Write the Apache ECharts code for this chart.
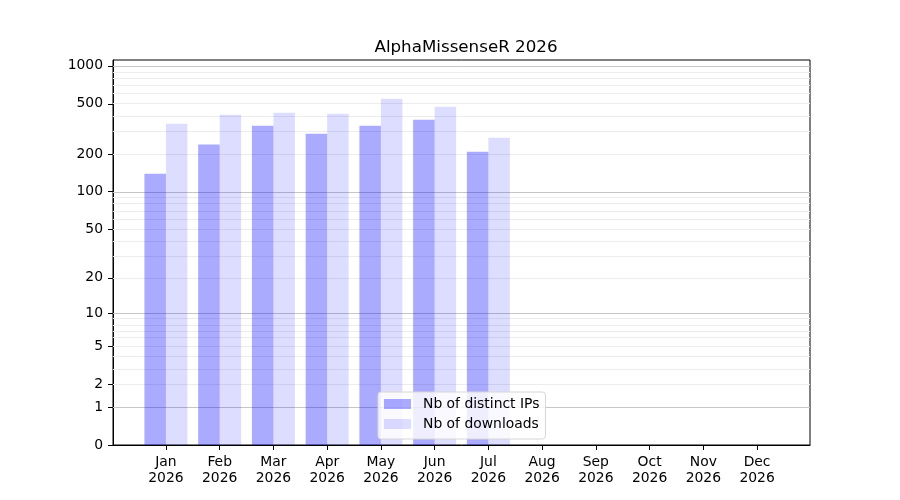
<!DOCTYPE html>
<html>
<head>
<meta charset="utf-8">
<title>AlphaMissenseR 2026</title>
<script src="https://cdn.jsdelivr.net/npm/echarts@6/dist/echarts.min.js"></script>
<style>
  html, body { margin: 0; padding: 0; background: #fff; }
  #main { width: 900px; height: 500px; }
</style>
</head>
<body>
<div id="main"></div>
<script>
// values
var months = ['Jan', 'Feb', 'Mar', 'Apr', 'May', 'Jun', 'Jul', 'Aug', 'Sep', 'Oct', 'Nov', 'Dec']
var year = '2026'
var monthPos = [1, 2, 3, 4, 5, 6, 7, 8, 9, 10, 11, 12]
var distinctIPs = [139, 237, 335, 289, 335, 374, 208, 0, 0, 0, 0, 0]
var downloads = [347, 410, 425, 417, 548, 474, 269, 0, 0, 0, 0, 0]

// y axis is log10(1 + n)
var yTicks = [0, 1, 2, 5, 10, 20, 50, 100, 200, 500, 1000]
var majorGrid = [1, 10, 100, 1000]
var minorGrid = [2, 3, 4, 5, 6, 7, 8, 9, 20, 30, 40, 50, 60, 70, 80, 90,
  200, 300, 400, 500, 600, 700, 800, 900]
var yTop = 1111

var FONT = 'DejaVu Sans'

function tr (v) { return Math.log10(1 + v) }

function seriesData (values) {
  return values.map(function (v, i) { return [monthPos[i], tr(v)] })
}

var gridLines = minorGrid.map(function (v) {
  return { yAxis: tr(v), lineStyle: { color: '#ececec', width: 1, type: 'solid' } }
}).concat(majorGrid.map(function (v) {
  return { yAxis: tr(v), lineStyle: { color: '#c6c6c6', width: 1, type: 'solid' } }
}))

var chart = echarts.init(document.getElementById('main'))

chart.setOption({
  animation: false,
  title: {
    text: 'AlphaMissenseR 2026',
    left: 461,
    textAlign: 'center',
    top: 34,
    textStyle: { fontFamily: FONT, fontSize: 16.7, fontWeight: 'normal', color: '#000' }
  },
  legend: {
    orient: 'vertical',
    left: 378,
    top: 392,
    padding: [4, 6, 7, 6],
    itemGap: 4,
    itemWidth: 27,
    itemHeight: 10,
    icon: 'rect',
    backgroundColor: 'rgba(255,255,255,0.8)',
    borderColor: '#d6d6d6',
    borderWidth: 1,
    borderRadius: 3,
    z: 10,
    textStyle: { fontFamily: FONT, fontSize: 13.9, color: '#000', lineHeight: 16, padding: [0, 0, 0, 7] },
    data: ['Nb of distinct IPs', 'Nb of downloads']
  },
  grid: {
    left: 113,
    right: 90,
    top: 60,
    bottom: 55,
    show: true,
    borderColor: '#000',
    borderWidth: 1
  },
  xAxis: {
    type: 'value',
    min: 0.015,
    max: 12.985,
    axisLine: { show: true, lineStyle: { color: '#000' } },
    axisTick: { show: true, customValues: monthPos, length: 5, lineStyle: { color: '#000' } },
    axisLabel: {
      customValues: monthPos,
      margin: 9,
      fontFamily: FONT,
      fontSize: 13.9,
      lineHeight: 16,
      color: '#000',
      formatter: function (v) { return months[Math.round(v) - 1] + '\n' + year }
    },
    splitLine: { show: false }
  },
  yAxis: {
    type: 'value',
    min: 0,
    max: tr(yTop),
    axisLine: { show: true, lineStyle: { color: '#000' } },
    axisTick: { show: true, customValues: yTicks.map(tr), length: 5, lineStyle: { color: '#000' } },
    axisLabel: {
      customValues: yTicks.map(tr),
      margin: 10,
      fontFamily: FONT,
      fontSize: 13.9,
      color: '#000',
      padding: [3, 0, 0, 0],
      formatter: function (v) {
        for (var i = 0; i < yTicks.length; i++) {
          if (Math.abs(tr(yTicks[i]) - v) < 1e-6) return String(yTicks[i])
        }
        return ''
      }
    },
    splitLine: { show: false }
  },
  series: [
    {
      name: 'Nb of distinct IPs',
      type: 'bar',
      z: 3,
      barWidth: 21.5,
      barGap: '0%',
      itemStyle: { color: 'rgba(0,0,255,0.333)' },
      data: seriesData(distinctIPs),
      markLine: {
        z: 1,
        silent: true,
        symbol: ['none', 'none'],
        label: { show: false },
        emphasis: { disabled: true },
        data: gridLines
      }
    },
    {
      name: 'Nb of downloads',
      type: 'bar',
      z: 3,
      barWidth: 21.5,
      barGap: '0%',
      itemStyle: { color: 'rgba(0,0,255,0.133)' },
      data: seriesData(downloads)
    }
  ]
})
</script>
</body>
</html>
